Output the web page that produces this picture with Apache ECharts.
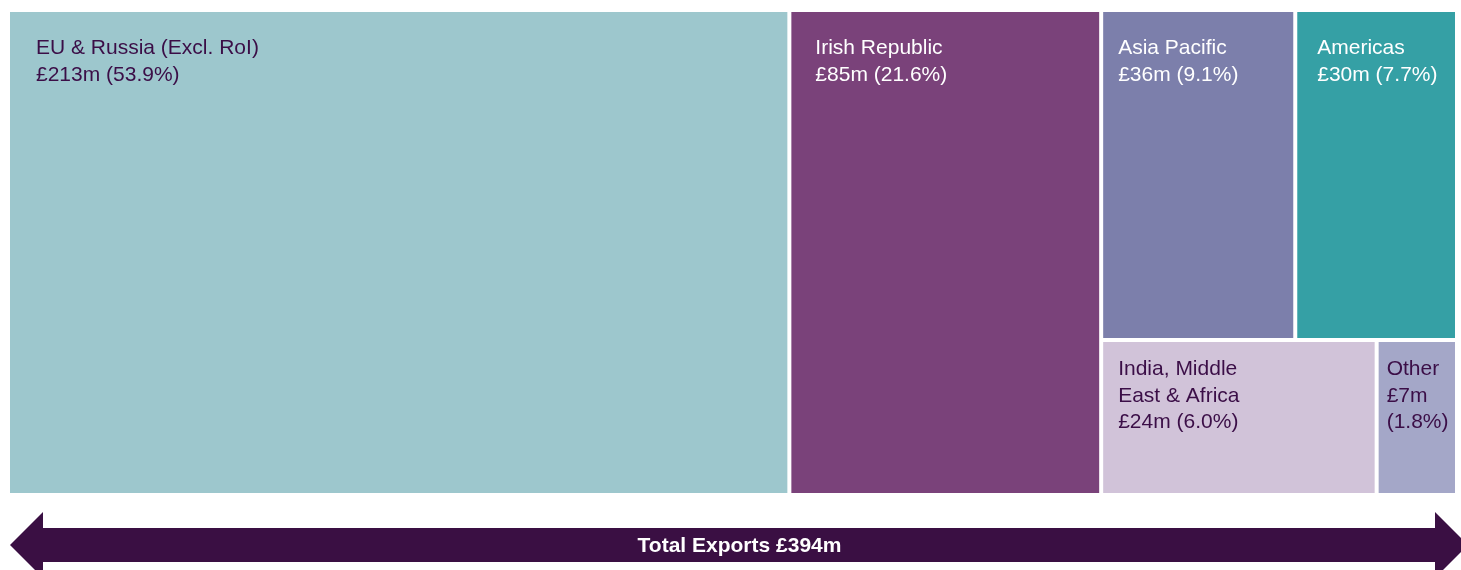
<!DOCTYPE html>
<html>
<head>
<meta charset="utf-8">
<script src="https://cdn.jsdelivr.net/npm/echarts@6/dist/echarts.min.js"></script>
<style>
  html, body { margin: 0; padding: 0; background: #ffffff; }
  #chart { width: 1461px; height: 570px; }
</style>
</head>
<body>
<div id="chart"></div>
<script>
// ---- data ----
const categories = ['EU & Russia (Excl. RoI)', 'Irish Republic', 'Asia Pacific', 'Americas', 'India, Middle East & Africa', 'Other'];
const valuesGBPm = [213, 85, 36, 30, 24, 7];
const sharePct = ['53.9', '21.6', '9.1', '7.7', '6.0', '1.8'];
const totalExportsGBPm = 394;

// ---- styling (not data) ----
const fillColors = ['#9DC7CD', '#7A427A', '#7C7FAB', '#35A0A5', '#D1C3D9', '#A4A7C8'];
const textColors = ['#3B0E47', '#FFFFFF', '#FFFFFF', '#FFFFFF', '#3B0E47', '#3B0E47'];
const labelPadding = [[23, 0, 0, 26], [23, 0, 0, 24], [23, 0, 0, 15], [23, 0, 0, 20], [14, 105, 0, 15], [14, 0, 0, 8]];
const FONT = "'Liberation Sans', Arial, Helvetica, sans-serif";
const DARK = '#3A0F43';

const chart = echarts.init(document.getElementById('chart'), null, { renderer: 'canvas' });

const treeData = categories.map((name, i) => ({
  name: name,
  value: valuesGBPm[i],
  pct: sharePct[i],
  itemStyle: { color: fillColors[i] },
  label: { color: textColors[i], padding: labelPadding[i] }
}));

const option = {
  backgroundColor: '#ffffff',
  animation: false,
  series: [{
    type: 'treemap',
    left: 10,
    top: 12,
    width: 1445,
    height: 481,
    roam: false,
    nodeClick: false,
    squareRatio: 1.2,
    sort: 'desc',
    breadcrumb: { show: false },
    itemStyle: { gapWidth: 4, borderWidth: 0, borderColor: '#ffffff' },
    levels: [{ itemStyle: { gapWidth: 4, borderWidth: 0, borderColor: '#ffffff' } }],
    label: {
      show: true,
      position: 'insideTopLeft',
      distance: 0,
      fontFamily: FONT,
      fontSize: 21,
      lineHeight: 26.5,
      overflow: 'break',
      formatter: function (p) {
        return p.name + '\n£' + p.value + 'm (' + p.data.pct + '%)';
      }
    },
    emphasis: { disabled: true },
    data: treeData
  }],
  graphic: [
    {
      type: 'polygon',
      silent: true,
      shape: {
        points: [[10, 545], [43, 512], [43, 528], [1435, 528], [1435, 512], [1468, 545],
                 [1435, 578], [1435, 562], [43, 562], [43, 578]]
      },
      style: { fill: DARK }
    },
    {
      type: 'text',
      silent: true,
      x: 739.5,
      y: 546,
      style: {
        text: 'Total Exports £' + totalExportsGBPm + 'm',
        fill: '#ffffff',
        font: 'bold 21px ' + FONT,
        textAlign: 'center',
        textVerticalAlign: 'middle'
      }
    }
  ]
};

chart.setOption(option);
</script>
</body>
</html>
